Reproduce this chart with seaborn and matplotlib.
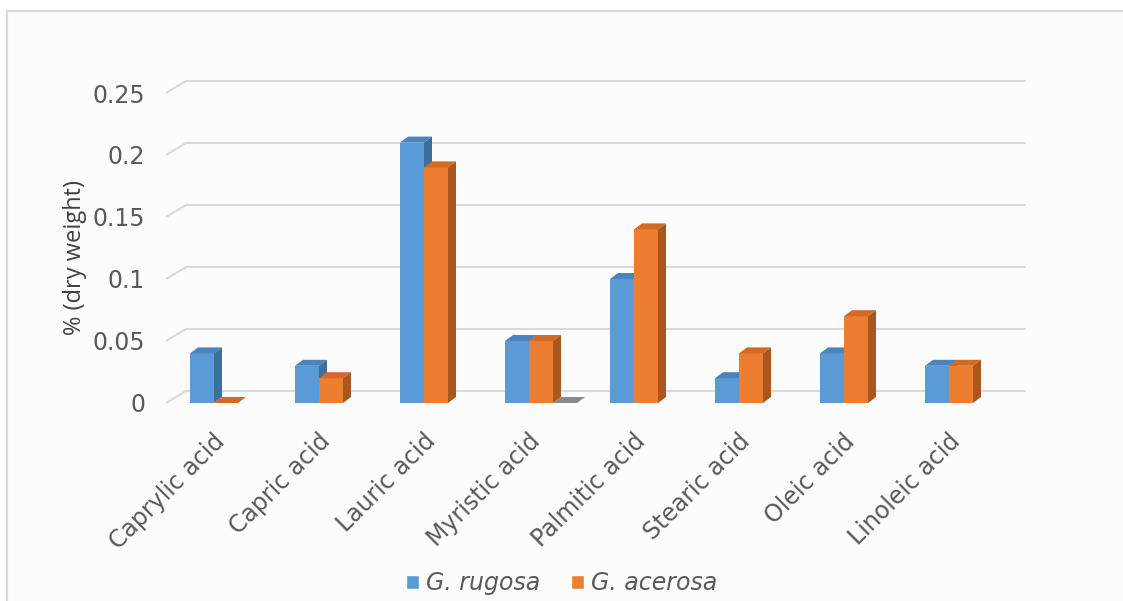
import numpy as np
import pandas as pd
import seaborn as sns
import matplotlib.pyplot as plt
from matplotlib.patches import Polygon, Rectangle, Patch
from matplotlib.lines import Line2D

# ---- data -------------------------------------------------------------
acids = ["Caprylic acid", "Capric acid", "Lauric acid", "Myristic acid",
         "Palmitic acid", "Stearic acid", "Oleic acid", "Linoleic acid"]
rugosa = [0.04, 0.03, 0.21, 0.05, 0.10, 0.02, 0.04, 0.03]
acerosa = [0.00, 0.02, 0.19, 0.05, 0.14, 0.04, 0.07, 0.03]
# unlabelled third column of the sheet: a single zero entry
blank_series = [np.nan, np.nan, np.nan, 0.0, np.nan, np.nan, np.nan, np.nan]
species = ["G. rugosa", "G. acerosa"]
yticks = [0, 0.05, 0.1, 0.15, 0.2, 0.25]
ytick_labels = ["0", "0.05", "0.1", "0.15", "0.2", "0.25"]

# ---- style ------------------------------------------------------------
sns.set_style("white")
plt.rcParams["font.family"] = ["DejaVu Sans"]
TEXT = "#595959"
GRID = "#D9D9D9"
FRONT = ["#5B9BD5", "#ED7D31"]
TOP = ["#4A84BE", "#D26A24"]
SIDE = ["#3E6E9C", "#A9571E"]
GREY_TOP = "#8A8A8A"

W, H = 1123, 601
fig = plt.figure(figsize=(W / 100, H / 100), dpi=100)
fig.patch.set_facecolor("white")
# chart area: light fill with a frame on the top and left edges
fx, fy = 7 / W, 1 - 11 / H
fig.add_artist(Rectangle((fx, 0), 1 - fx, fy, transform=fig.transFigure,
                         facecolor="#FCFCFC", edgecolor="none", zorder=-10))
fig.add_artist(Line2D([fx, fx, 1], [0, fy, fy], transform=fig.transFigure,
                      color=GRID, lw=1.5, zorder=-9))

# front plane of the 3-D plot box, in pixels
L, R = 166, 1006
Y0, Y25 = 403, 93
ax = fig.add_axes([L / W, (H - Y0) / H, (R - L) / W, (Y0 - Y25) / H])
ax.set_facecolor("none")
xpp = (R - L) / 8.0          # pixels per category
ypp = (Y0 - Y25) / 0.25      # pixels per unit value
shift = 4.5 / xpp

df = pd.DataFrame({
    "acid": acids * 2,
    "species": [species[0]] * len(acids) + [species[1]] * len(acids),
    "value": rugosa + acerosa,
})
group_w = 48 / xpp
sns.barplot(data=df, x="acid", y="value", hue="species", order=acids,
            hue_order=species, palette=FRONT, saturation=1, width=group_w,
            errorbar=None, legend=False, linewidth=0, ax=ax)
ax.set_xlim(-0.5 + shift, 7.5 + shift)
ax.set_ylim(0, 0.25)

# depth of the bars and of the back wall, in data units
dx, dy = 8 / xpp, 6 / ypp
bdx, bdy = 20 / xpp, 12 / ypp


def add_depth(patch, top_c, side_c, z):
    x, w, h = patch.get_x(), patch.get_width(), patch.get_height()
    if np.isnan(h):
        return
    top = Polygon([(x, h), (x + w, h), (x + w + dx, h + dy), (x + dx, h + dy)],
                  closed=True, facecolor=top_c, edgecolor="none", zorder=z)
    ax.add_patch(top)
    if h > 0:
        side = Polygon([(x + w, 0), (x + w + dx, dy), (x + w + dx, h + dy),
                        (x + w, h)], closed=True, facecolor=side_c,
                       edgecolor="none", zorder=z)
        ax.add_patch(side)


for i, cont in enumerate(ax.containers[:2]):
    for p in cont.patches:
        p.set_zorder(2 + i)
        add_depth(p, TOP[i], SIDE[i], 2.1 + i)

# zero-valued third series sits right of the orange bar
bw = group_w / 2
blank_x = np.arange(len(acids)) + bw
blank = ax.bar(blank_x, blank_series, width=bw, align="edge",
               color="#A5A5A5", linewidth=0, zorder=4)
for p in blank.patches:
    add_depth(p, GREY_TOP, GREY_TOP, 4.1)

# gridlines on the back wall with the left-hand diagonal
x0, x1 = ax.get_xlim()
for v in yticks:
    ax.plot([x0, x0 + bdx, x1 + bdx], [v, v + bdy, v + bdy], color=GRID,
            lw=1.5, clip_on=False, zorder=1, solid_capstyle="butt")

for s in ax.spines.values():
    s.set_visible(False)
ax.set_yticks(yticks)
ax.set_yticklabels(ytick_labels)
ax.tick_params(axis="y", length=0, pad=15, labelsize=17, labelcolor=TEXT)
ax.set_xticks(np.arange(len(acids)) + 0.07)
ax.set_xticklabels(acids, rotation=45, ha="right", va="center",
                   rotation_mode="anchor")
ax.tick_params(axis="x", length=0, pad=25, labelsize=17, labelcolor=TEXT)
ax.set_xlabel("")
ax.set_ylabel("")

fig.text(75 / W, 1 - 257 / H, "% (dry weight)", rotation=90, ha="center",
         va="center", color="#404040", fontsize=17,
         family=["Open Sans", "DejaVu Sans"])

handles = [Patch(facecolor=FRONT[0], label=species[0]),
           Patch(facecolor=FRONT[1], label=species[1])]
fig.legend(handles=handles, loc="center", bbox_to_anchor=(562 / W, 1 - 583 / H),
           ncol=2, frameon=False, prop={"style": "italic", "size": 17},
           handlelength=0.55, handleheight=0.55, handletextpad=0.3,
           columnspacing=1.3, labelcolor=TEXT)

fig.savefig("out.png", dpi=100)
